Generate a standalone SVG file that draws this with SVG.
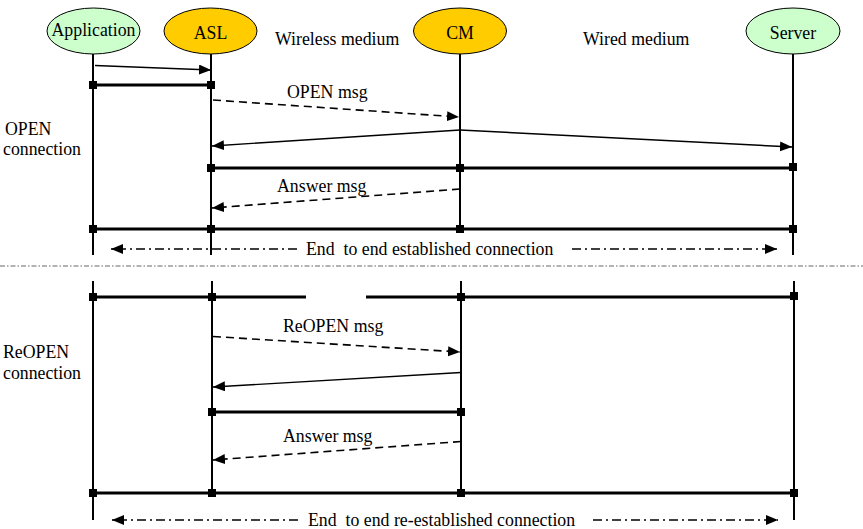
<svg xmlns="http://www.w3.org/2000/svg" width="863" height="529" viewBox="0 0 863 529">
  <style>
    text { font-family: "Liberation Serif", "DejaVu Serif", serif; font-size: 17.8px; fill: #000; }
    .mid { text-anchor: middle; }
    .pre { white-space: pre; }
    .green { fill: #CCFFCC; stroke: #000; stroke-width: 1; }
    .amber { fill: #FFCC00; stroke: #000; stroke-width: 1; }
    .life { stroke: #000; stroke-width: 2; fill: none; }
    .bar { stroke: #000; stroke-width: 3; fill: none; }
    .sq { fill: #000; }
    .msg { stroke: #000; stroke-width: 1.4; fill: none; marker-end: url(#head); }
    .dash { stroke: #000; stroke-width: 1.6; fill: none; stroke-dasharray: 8 5; marker-end: url(#head); }
    .e2e { stroke: #000; stroke-width: 1.6; fill: none; stroke-dasharray: 9 4 2 4; marker-end: url(#head); }
    .sep { stroke: #666; stroke-width: 1; fill: none; stroke-dasharray: 5 2 1.5 2; }
  </style>
  <defs>
    <marker id="head" markerUnits="userSpaceOnUse" markerWidth="13" markerHeight="11" refX="12" refY="5" orient="auto">
      <path d="M0,0 L12,5 L0,10 z" fill="#000"/>
    </marker>
  </defs>

  <rect width="863" height="529" fill="#fff"/>

  <!-- participants with their lifelines -->
  <g id="application">
    <line class="life" x1="93" y1="54" x2="93" y2="255"/>
    <line class="life" x1="93" y1="281" x2="93" y2="520"/>
    <ellipse class="green" cx="93.5" cy="31" rx="46.5" ry="23"/>
    <text class="mid" x="93.5" y="36" font-family="Liberation Serif, serif">Application</text>
  </g>
  <g id="asl">
    <line class="life" x1="211" y1="54" x2="211" y2="255"/>
    <line class="life" x1="212" y1="281" x2="212" y2="494"/>
    <ellipse class="amber" cx="210.5" cy="31" rx="46.5" ry="23"/>
    <text class="mid" x="210.5" y="39">ASL</text>
  </g>
  <g id="cm">
    <line class="life" x1="460" y1="54" x2="460" y2="230"/>
    <line class="life" x1="461" y1="281" x2="461" y2="494"/>
    <ellipse class="amber" cx="460" cy="31" rx="46.5" ry="23"/>
    <text class="mid" x="460" y="39">CM</text>
  </g>
  <g id="server">
    <line class="life" x1="793" y1="54" x2="793" y2="255"/>
    <line class="life" x1="794" y1="281" x2="794" y2="520"/>
    <ellipse class="green" cx="793" cy="31" rx="47" ry="23"/>
    <text class="mid" x="793" y="39">Server</text>
  </g>

  <!-- medium and phase labels -->
  <g id="labels">
    <text x="275" y="44.5">Wireless medium</text>
    <text x="583" y="44.5">Wired medium</text>
    <text x="5" y="135">OPEN</text>
    <text x="3" y="155">connection</text>
    <text x="3" y="358">ReOPEN</text>
    <text x="3" y="379">connection</text>
  </g>

  <line id="separator" class="sep" x1="0" y1="266" x2="863" y2="266"/>

  <g id="connectors">
    <!-- OPEN phase -->
    <path class="msg" d="M95,65.5 L211,70"/>
    <path class="bar" d="M93,85 H211"/>
    <path class="dash" d="M213,100 L459,117"/>
    <text x="287" y="98">OPEN msg</text>
    <path class="msg" d="M460,130 L212,146"/>
    <path class="msg" d="M460,130 L792,147"/>
    <path class="bar" d="M211,168 H793"/>
    <text x="277" y="192">Answer msg</text>
    <path class="dash" d="M460,189 L212,208"/>
    <path class="bar" d="M93,229 H793"/>
    <path class="e2e" d="M297,249 H111"/>
    <text class="pre" x="306" y="255">End  to end established connection</text>
    <path class="e2e" d="M572,249 H777"/>

    <!-- ReOPEN phase -->
    <path class="bar" d="M93,297 H306 M366,297 H794"/>
    <text x="283" y="332">ReOPEN msg</text>
    <path class="dash" d="M213,336.5 L460,352"/>
    <path class="msg" d="M461,372.5 L213,387"/>
    <path class="bar" d="M212,412 H461"/>
    <text x="283" y="442">Answer msg</text>
    <path class="dash" d="M461,441.5 L213,460"/>
    <path class="bar" d="M93,493 H794"/>
    <path class="e2e" d="M298,520 H112"/>
    <text class="pre" x="308" y="526">End  to end re-established connection</text>
    <path class="e2e" d="M593,520 H778"/>

    <!-- junction squares -->
    <g class="sq">
      <rect x="89" y="81" width="8" height="8"/>
      <rect x="207" y="81" width="8" height="8"/>
      <rect x="207" y="164" width="8" height="8"/>
      <rect x="456" y="164" width="8" height="8"/>
      <rect x="789" y="163" width="8" height="8"/>
      <rect x="89" y="225" width="8" height="8"/>
      <rect x="207" y="225" width="8" height="8"/>
      <rect x="456" y="225" width="8" height="8"/>
      <rect x="789" y="225" width="8" height="8"/>
      <rect x="89" y="293" width="8" height="8"/>
      <rect x="208" y="293" width="8" height="8"/>
      <rect x="457" y="293" width="8" height="8"/>
      <rect x="790" y="292" width="8" height="8"/>
      <rect x="208" y="408" width="8" height="8"/>
      <rect x="457" y="408" width="8" height="8"/>
      <rect x="89" y="489" width="8" height="8"/>
      <rect x="208" y="489" width="8" height="8"/>
      <rect x="457" y="489" width="8" height="8"/>
      <rect x="790" y="489" width="8" height="8"/>
    </g>
  </g>
</svg>
